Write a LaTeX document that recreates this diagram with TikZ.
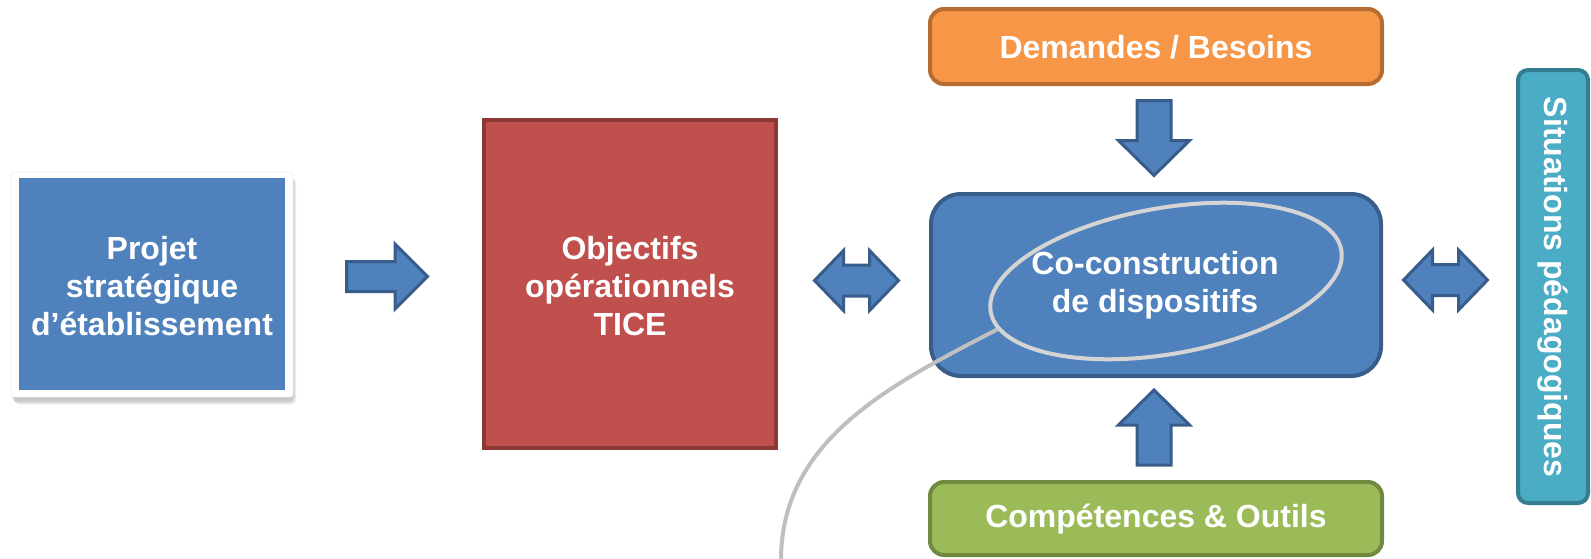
\documentclass[tikz,border=0pt]{standalone}
\usepackage{fontspec}
\setmainfont{Liberation Sans}
\usetikzlibrary{shapes.geometric}
\definecolor{bfill}{HTML}{4F81BD}
\definecolor{bline}{HTML}{385D8A}
\definecolor{rfill}{HTML}{C0504D}
\definecolor{rline}{HTML}{8C3836}
\definecolor{ofill}{HTML}{F79646}
\definecolor{oline}{HTML}{B66D31}
\definecolor{gfill}{HTML}{9BBB59}
\definecolor{gline}{HTML}{71893F}
\definecolor{tfill}{HTML}{4BACC6}
\definecolor{tline}{HTML}{357D91}
\definecolor{elline}{HTML}{D4D4D4}
\definecolor{cvline}{HTML}{BFBFBF}
\tikzset{
  txt/.style={text=white, font=\fontsize{32}{38}\selectfont\bfseries, align=center, inner sep=0pt},
  boxbase/.style={rectangle, line width=4pt, inner sep=0pt},
  shadowbox/.style={rectangle, fill=black, opacity=0.07, rounded corners=5pt, minimum width=282pt, minimum height=226pt, inner sep=0pt},
  blockarrow/.style={draw=bline, fill=bfill, line width=3pt},
  rightblock/.pic={\path[blockarrow] (-40.5,-15) -- (8,-15) -- (8,-32.5) -- (40.5,0) -- (8,32.5) -- (8,15) -- (-40.5,15) -- cycle;},
  vertblock/.pic={\path[blockarrow] (-37.5,-17) -- (2.5,-17) -- (2.5,-35.5) -- (37.5,0) -- (2.5,35.5) -- (2.5,17) -- (-37.5,17) -- cycle;},
  dblblock/.pic={\path[blockarrow] (-42,0) -- (-13,-30) -- (-13,-15.5) -- (13,-15.5) -- (13,-30) -- (42,0) -- (13,30) -- (13,15.5) -- (-13,15.5) -- (-13,30) -- cycle;},
}
\begin{document}
\begin{tikzpicture}[x=1pt,y=-1pt]
\useasboundingbox (0,0) rectangle (1591,558);
% left box with soft shadow
\node[shadowbox] (sh1) at (153,289) {};
\node[shadowbox] (sh2) at (154,290) {};
\node[shadowbox] (sh3) at (155,291.5) {};
\node[shadowbox, opacity=0.05] (sh4) at (152,286) {};
\node[rectangle, fill=white, draw=black!6, line width=0.8pt, rounded corners=3pt, minimum width=282pt, minimum height=225pt, inner sep=0pt] (frame) at (152,284.5) {};
\node[rectangle, fill=bfill, minimum width=266pt, minimum height=212pt, inner sep=0pt] (proj) at (152,284) {};
\node[txt] (projt) at (152,286) {Projet\\strat\'egique\\d’\'etablissement};
% red box
\node[boxbase, draw=rline, fill=rfill, minimum width=292pt, minimum height=328pt] (obj) at (630,284) {};
\node[txt] (objt) at (630,286) {Objectifs\\op\'erationnels\\TICE};
% orange
\node[boxbase, draw=oline, fill=ofill, rounded corners=14pt, minimum width=452pt, minimum height=75pt] (dem) at (1156,46.5) {};
\node[txt] (demt) at (1156,47) {Demandes / Besoins};
% blue centre
\node[boxbase, draw=bline, fill=bfill, rounded corners=30pt, minimum width=450pt, minimum height=182pt] (cc) at (1156,285) {};
% green
\node[boxbase, draw=gline, fill=gfill, rounded corners=14pt, minimum width=452pt, minimum height=73pt] (comp) at (1156,518.5) {};
\node[txt] (compt) at (1156,519) {Comp\'etences \& Outils};
% teal
\node[boxbase, draw=tline, fill=tfill, rounded corners=10pt, minimum width=70pt, minimum height=433pt] (sit) at (1553,286.5) {};
\node[txt, rotate=-90] (sitt) at (1553,287) {Situations p\'edagogiques};
% ellipse and callout curve
\node[ellipse, draw=elline, line width=4pt, minimum width=356pt, minimum height=146pt, inner sep=0pt, rotate=10] (ell) at (1166,281) {};
\coordinate (cend) at (781,562);
\draw[cvline, line width=4pt] (ell.186) .. controls (890,385) and (780,440) .. (cend);
\node[txt] (cct) at (1155,285) {Co-construction\\de dispositifs};
% block arrows
\pic (a1) at (387,276.5) {rightblock};
\pic (a2) at (856.5,280.5) {dblblock};
\pic (a3) at (1445.5,280) {dblblock};
\pic[rotate=-90] (a4) at (1154,138) {vertblock};
\pic[rotate=90] (a5) at (1154,427.5) {vertblock};
\end{tikzpicture}
\end{document}
